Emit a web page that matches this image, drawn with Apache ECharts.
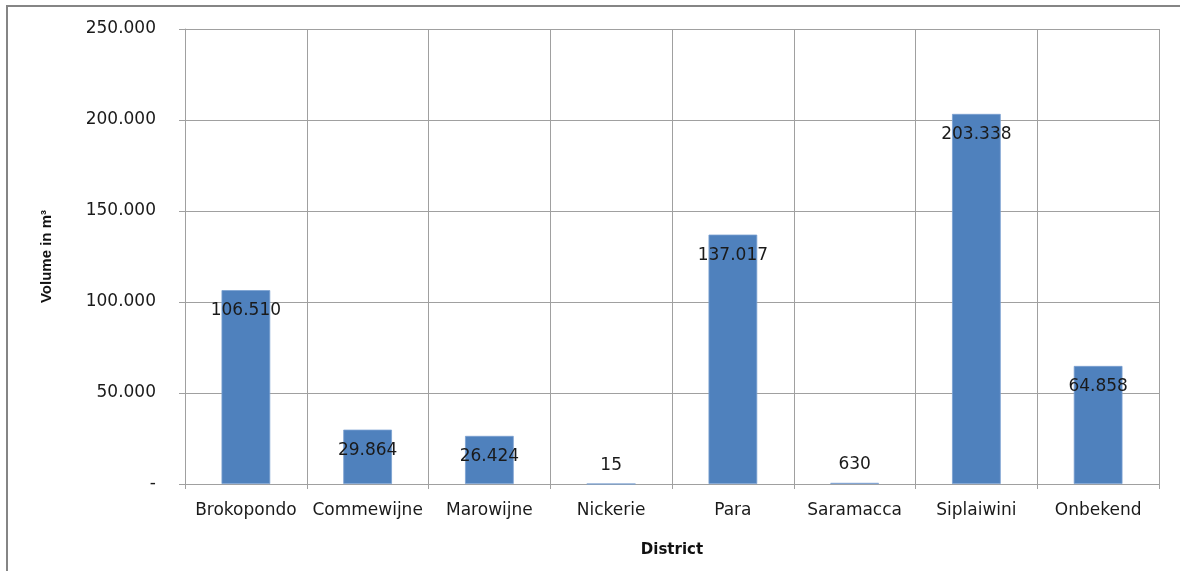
<!DOCTYPE html>
<html>
<head>
<meta charset="utf-8">
<script src="https://cdn.jsdelivr.net/npm/echarts@6/dist/echarts.min.js"></script>
<style>html,body{margin:0;padding:0;background:#fff;}#c{width:1180px;height:571px;}</style>
</head>
<body>
<div id="c"></div>
<script>
const categories = ['Brokopondo', 'Commewijne', 'Marowijne', 'Nickerie', 'Para', 'Saramacca', 'Siplaiwini', 'Onbekend'];
const volumes = [106510, 29864, 26424, 15, 137017, 630, 203338, 64858];
const yAxisName = 'Volume in m³';
const xAxisName = 'District';

function fmt(v) {
  if (v === 0) return '-';
  return String(Math.round(v)).replace(/\B(?=(\d{3})+(?!\d))/g, '.');
}

const chart = echarts.init(document.getElementById('c'));
const labelFont = { fontFamily: 'DejaVu Sans', fontSize: 17, color: '#1a1a1a' };

chart.setOption({
  animation: false,
  backgroundColor: '#fff',
  graphic: [{
    type: 'rect', silent: true, z: 100,
    shape: { x: 7, y: 6, width: 1250, height: 650 },
    style: { fill: 'none', stroke: '#858585', lineWidth: 2 }
  }],
  grid: { left: 185, right: 21, top: 29, bottom: 87, containLabel: false },
  xAxis: {
    type: 'category',
    data: categories,
    name: xAxisName,
    nameLocation: 'middle',
    nameGap: 59,
    nameTextStyle: { fontFamily: 'DejaVu Sans', fontWeight: 'bold', fontSize: 15, color: '#111' },
    axisLine: { show: true, lineStyle: { color: '#a0a0a0', width: 1 } },
    axisTick: { show: true, interval: 0, length: 5, lineStyle: { color: '#a0a0a0' } },
    axisLabel: Object.assign({ margin: 18, interval: 0 }, labelFont),
    splitLine: { show: true, interval: 0, lineStyle: { color: '#a0a0a0', width: 1 } }
  },
  yAxis: {
    type: 'value',
    min: 0, max: 250000, interval: 50000,
    name: yAxisName,
    nameLocation: 'middle',
    nameGap: 131,
    nameRotate: 90,
    nameTextStyle: { fontFamily: 'Liberation Sans', fontWeight: 'bold', fontSize: 15, color: '#111' },
    axisLine: { show: true, lineStyle: { color: '#a0a0a0', width: 1 } },
    axisTick: { show: true, length: 6, lineStyle: { color: '#a0a0a0' } },
    axisLabel: Object.assign({ margin: 29, formatter: fmt }, labelFont),
    splitLine: { show: true, lineStyle: { color: '#a0a0a0', width: 1 } }
  },
  series: [{
    type: 'bar',
    barWidth: '40%',
    data: volumes.map(v => v < 5000
      ? { value: v, label: { position: 'top', distance: 10 } }
      : v),
    itemStyle: { color: '#4F81BD', borderColor: '#7A9FD0', borderWidth: 0.8 },
    label: Object.assign({
      show: true,
      position: 'insideTop',
      distance: 12,
      formatter: p => fmt(p.value)
    }, labelFont)
  }]
});
</script>
</body>
</html>
